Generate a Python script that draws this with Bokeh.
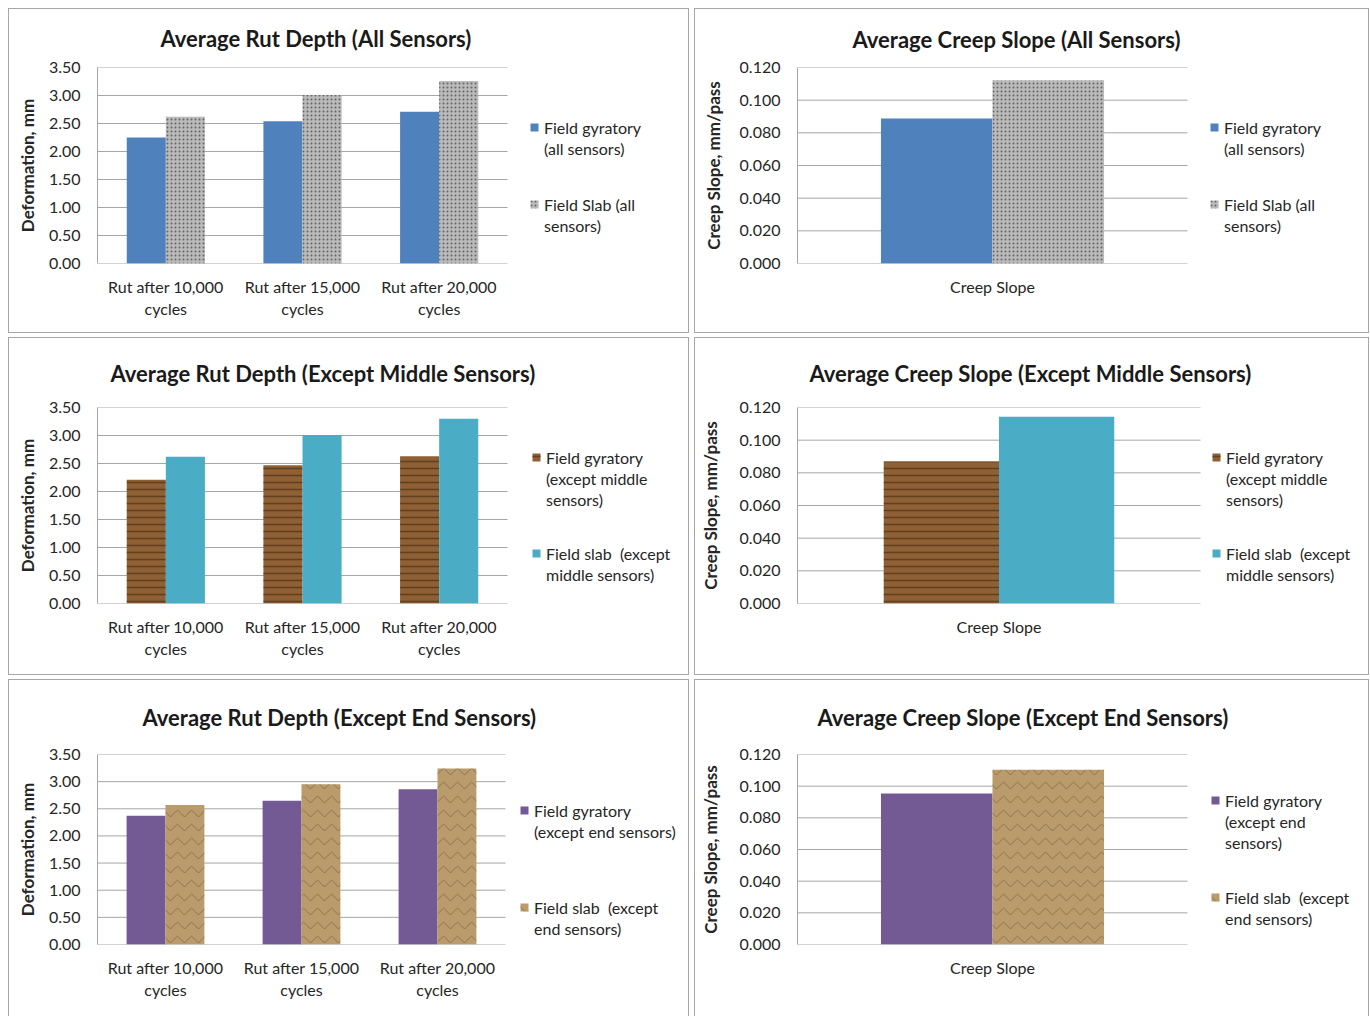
from bokeh.plotting import figure
from bokeh.models import (Range1d, FixedTicker, NumeralTickFormatter,
                          Legend, LegendItem, ColumnDataSource, Spacer)
from bokeh.layouts import column, row
from bokeh.embed import file_html
from bokeh.resources import INLINE

# ---------------- data ----------------
rut_categories = ["Rut after 10,000\ncycles", "Rut after 15,000\ncycles", "Rut after 20,000\ncycles"]
creep_categories = ["Creep Slope"]

rut_all_gyratory = [2.25, 2.54, 2.71]
rut_all_slab = [2.62, 3.01, 3.26]
creep_all_gyratory = [0.0888]
creep_all_slab = [0.1122]

rut_exmid_gyratory = [2.21, 2.47, 2.63]
rut_exmid_slab = [2.62, 3.01, 3.30]
creep_exmid_gyratory = [0.0869]
creep_exmid_slab = [0.1143]

rut_exend_gyratory = [2.37, 2.65, 2.86]
rut_exend_slab = [2.57, 2.95, 3.24]
creep_exend_gyratory = [0.0953]
creep_exend_slab = [0.1104]

rut_ticks = [0.0, 0.5, 1.0, 1.5, 2.0, 2.5, 3.0, 3.5]
creep_ticks = [0.0, 0.02, 0.04, 0.06, 0.08, 0.10, 0.12]

titles = ["Average Rut Depth (All Sensors)", "Average Creep Slope (All Sensors)",
          "Average Rut Depth (Except Middle Sensors)", "Average Creep Slope (Except Middle Sensors)",
          "Average Rut Depth (Except End Sensors)", "Average Creep Slope (Except End Sensors)"]

legend_all = [["Field gyratory", "(all sensors)"], ["Field Slab (all", "sensors)"]]
legend_exmid = [["Field gyratory", "(except middle", "sensors)"], ["Field slab  (except", "middle sensors)"]]
legend_exend_rut = [["Field gyratory", "(except end sensors)"], ["Field slab  (except", "end sensors)"]]
legend_exend_creep = [["Field gyratory", "(except end", "sensors)"], ["Field slab  (except", "end sensors)"]]

# ---------------- styles ----------------
FONT = "Lato"
GRID = "#a6a6a6"
TXT = "#262626"

BLUE = dict(fill_color="#4f81bd")
TEAL = dict(fill_color="#4bacc6")
PURPLE = dict(fill_color="#735a94")
GRANITE = dict(fill_color="#bababa", hatch_pattern=".", hatch_color="#505050",
               hatch_scale=4, hatch_weight=1.2, hatch_alpha=0.8)
WOOD = dict(fill_color="#8f6034", hatch_pattern="-", hatch_color="#4a2c12",
            hatch_scale=7, hatch_weight=1.6, hatch_alpha=0.65)
PAPER = dict(fill_color="#b99b6c", hatch_pattern="v", hatch_color="#6c5232",
             hatch_scale=14, hatch_weight=1.0, hatch_alpha=0.55)

LINE_H = 21  # legend line pitch


def make_panel(title, cats, gyr, slab, ticks, fmt, ylabel, labels, s_gyr, s_slab, g):
    W, H = g["W"], g["H"]
    fl, fw, ft, fh = g["fl"], g["fw"], g["ft"], g["fh"]
    n = len(cats)
    unit = fw / n                          # pixels per category
    extra = (W - fl - 1 - fw) / unit       # room on the right for the legend
    p = figure(width=W, height=H,
               x_range=Range1d(-0.5, n - 0.5 + extra), y_range=Range1d(0, ticks[-1]),
               output_backend="svg", toolbar_location=None,
               min_border_left=fl, min_border_right=1,
               min_border_top=ft, min_border_bottom=H - ft - fh,
               styles={"outline": "1px solid #a6a6a6", "outline-offset": "0px"})
    p.outline_line_color = None
    p.background_fill_color = "white"
    p.border_fill_color = "white"

    # title
    p.title.text = title
    p.title.text_font = FONT
    p.title.text_font_style = "bold"
    p.title.text_font_size = "22px"
    p.title.text_color = "#1a1a1a"
    p.title.align = "left"
    p.title.offset = g["toff"]
    p.title.vertical_align = "middle"
    p.title.standoff = g["tstand"]

    # gridlines limited to the plot area
    p.xgrid.visible = False
    p.ygrid.visible = False
    p.segment(x0=[-0.5] * len(ticks), x1=[n - 0.5] * len(ticks), y0=ticks, y1=ticks,
              line_color=GRID, line_width=1)

    idx = list(range(n))
    bw = 0.286
    src = ColumnDataSource(dict(xg=[i - bw / 2 for i in idx], xs=[i + bw / 2 for i in idx],
                                gyr=gyr, slab=slab))
    r1 = p.vbar(x="xg", top="gyr", width=bw, source=src, line_color=None, **s_gyr)
    r2 = p.vbar(x="xs", top="slab", width=bw, source=src, line_color=None, **s_slab)
    dummy = p.vbar(x=[], top=[], width=bw, fill_alpha=0, line_alpha=0)

    # y axis
    p.yaxis.ticker = FixedTicker(ticks=ticks)
    p.yaxis.formatter = NumeralTickFormatter(format=fmt)
    p.yaxis.axis_line_color = GRID
    p.yaxis.major_tick_out = 0
    p.yaxis.major_tick_in = 0
    p.yaxis.minor_tick_out = 0
    p.yaxis.minor_tick_in = 0
    p.yaxis.major_label_standoff = 17
    p.yaxis.major_label_text_font = FONT
    p.yaxis.major_label_text_font_size = "16px"
    p.yaxis.major_label_text_color = TXT
    p.yaxis.axis_label = ylabel
    p.yaxis.axis_label_text_font = FONT
    p.yaxis.axis_label_text_font_style = "bold"
    p.yaxis.axis_label_text_font_size = "17px"
    p.yaxis.axis_label_text_color = TXT
    p.yaxis.axis_label_standoff = g["ylstand"]

    # x axis (category labels)
    p.xaxis.ticker = FixedTicker(ticks=idx)
    p.xaxis.major_label_overrides = {i: c for i, c in zip(idx, cats)}
    p.xaxis.axis_line_color = None
    p.xaxis.major_tick_out = 0
    p.xaxis.major_tick_in = 0
    p.xaxis.minor_tick_out = 0
    p.xaxis.minor_tick_in = 0
    p.xaxis.major_label_standoff = 13
    p.xaxis.major_label_text_font = FONT
    p.xaxis.major_label_text_font_size = "16px"
    p.xaxis.major_label_text_color = TXT
    p.xaxis.major_label_text_line_height = 1.19

    # legends: one per series, one item per text line so the swatch sits on the first line
    for lines, rend, top in zip(labels, [r1, r2], g["ltops"]):
        items = [LegendItem(label=lines[0], renderers=[rend])]
        items += [LegendItem(label=ln, renderers=[dummy]) for ln in lines[1:]]
        loc_y = fh - top - len(lines) * LINE_H
        leg = Legend(items=items, location=(fw + g["lx"], loc_y), orientation="vertical",
                     padding=0, margin=0, spacing=0,
                     glyph_width=10, glyph_height=10, label_standoff=5, label_height=LINE_H,
                     label_text_font=FONT, label_text_font_size="16px",
                     label_text_color=TXT,
                     border_line_color=None, background_fill_alpha=0)
        p.add_layout(leg, "center")
    return p


# geometry (pixels, relative to each panel's box)
g1 = dict(W=679, H=323, fl=88, fw=410, ft=58, fh=196, toff=63, tstand=29, ylstand=8,
          lx=22, ltops=(49.5, 126.5))
g2 = dict(W=673, H=323, fl=102, fw=390, ft=58, fh=196, toff=55, tstand=27, ylstand=13,
          lx=22, ltops=(49.5, 126.5))
g3 = dict(W=679, H=336, fl=88, fw=410, ft=67, fh=198, toff=13, tstand=40, ylstand=8,
          lx=24, ltops=(41.5, 137.5))
g4 = dict(W=673, H=336, fl=102, fw=403, ft=67, fh=198, toff=12, tstand=40, ylstand=16,
          lx=11, ltops=(41.5, 137.5))
g5 = dict(W=679, H=336, fl=88, fw=408, ft=72, fh=192, toff=45, tstand=45, ylstand=8,
          lx=14, ltops=(47.5, 144.5))
g6 = dict(W=673, H=336, fl=102, fw=390, ft=72, fh=192, toff=20, tstand=45, ylstand=16,
          lx=23, ltops=(37.5, 134.5))

p1 = make_panel(titles[0], rut_categories, rut_all_gyratory, rut_all_slab, rut_ticks, "0.00",
                "Deformation, mm", legend_all, BLUE, GRANITE, g1)
p2 = make_panel(titles[1], creep_categories, creep_all_gyratory, creep_all_slab, creep_ticks, "0.000",
                "Creep Slope, mm/pass", legend_all, BLUE, GRANITE, g2)
p3 = make_panel(titles[2], rut_categories, rut_exmid_gyratory, rut_exmid_slab, rut_ticks, "0.00",
                "Deformation, mm", legend_exmid, WOOD, TEAL, g3)
p4 = make_panel(titles[3], creep_categories, creep_exmid_gyratory, creep_exmid_slab, creep_ticks, "0.000",
                "Creep Slope, mm/pass", legend_exmid, WOOD, TEAL, g4)
p5 = make_panel(titles[4], rut_categories, rut_exend_gyratory, rut_exend_slab, rut_ticks, "0.00",
                "Deformation, mm", legend_exend_rut, PURPLE, PAPER, g5)
p6 = make_panel(titles[5], creep_categories, creep_exend_gyratory, creep_exend_slab, creep_ticks, "0.000",
                "Creep Slope, mm/pass", legend_exend_creep, PURPLE, PAPER, g6)

grid = column(row(p1, p2, spacing=7), row(p3, p4, spacing=7), row(p5, p6, spacing=7), spacing=6)
layout = column(Spacer(height=9), row(Spacer(width=9), grid, spacing=0), spacing=0)
open("out.html", "w").write(file_html(layout, INLINE))
